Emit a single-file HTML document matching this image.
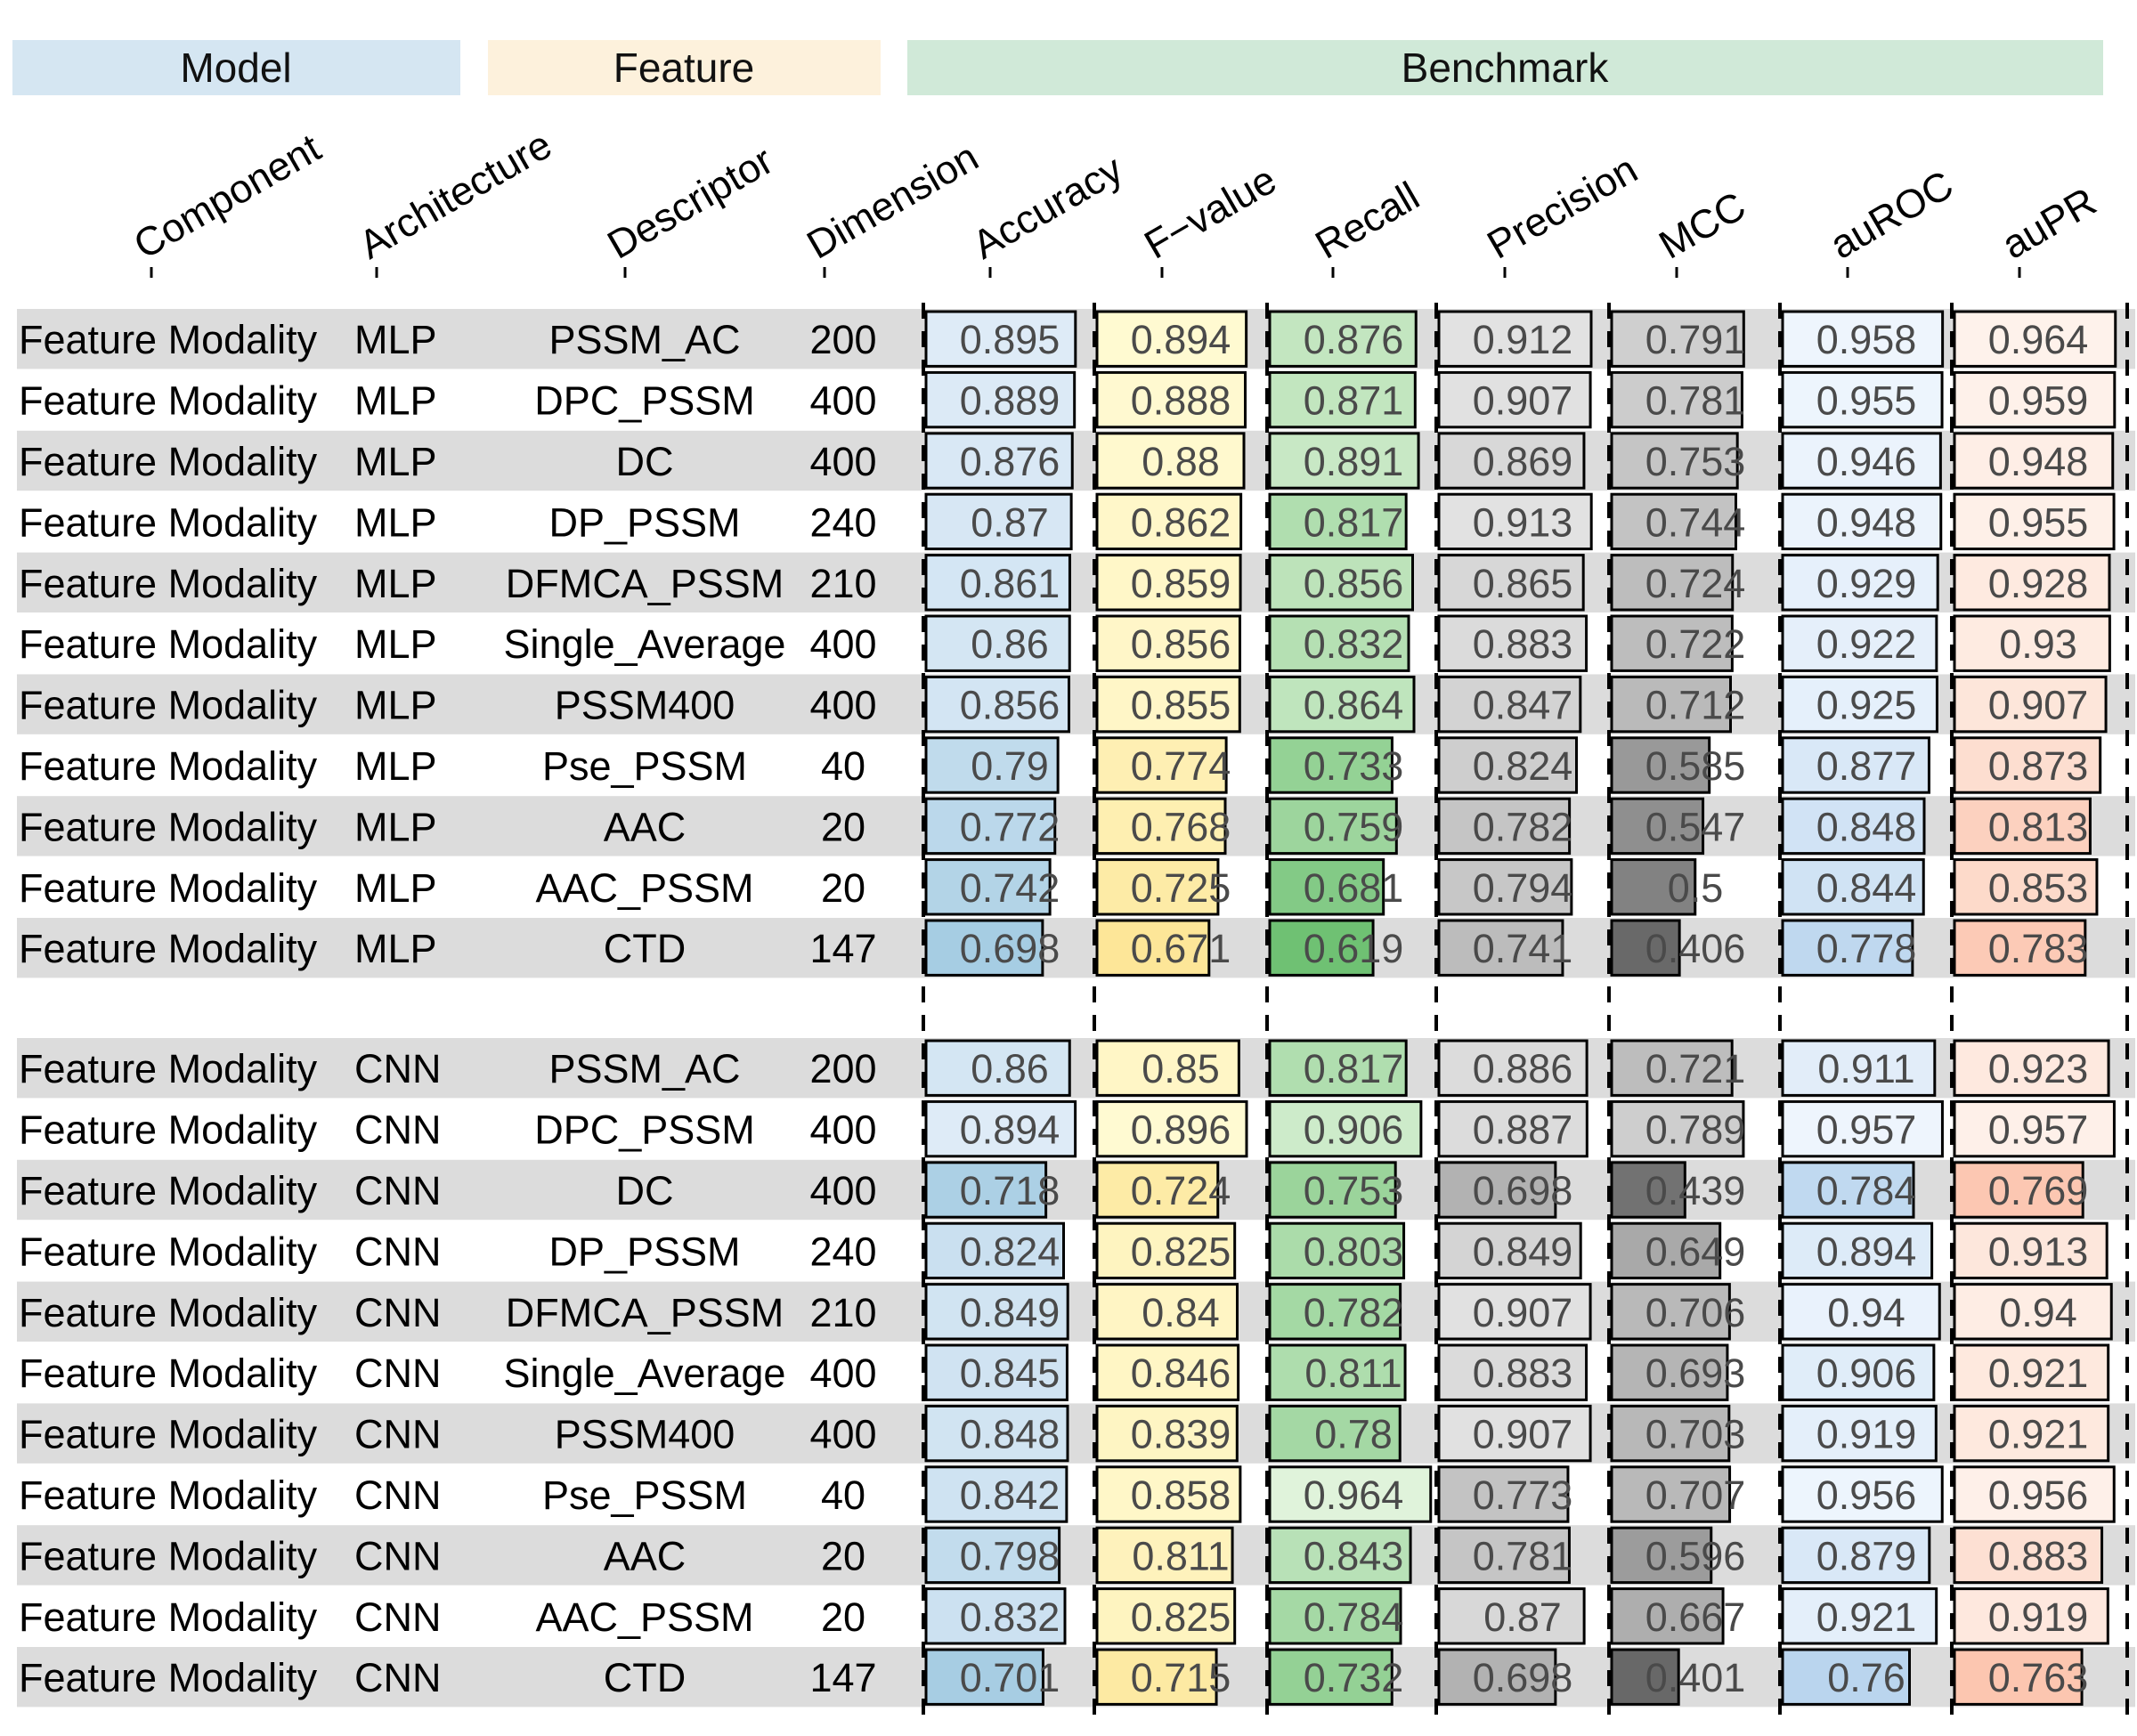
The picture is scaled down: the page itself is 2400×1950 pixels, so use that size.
<!DOCTYPE html>
<html><head><meta charset="utf-8"><style>
html,body{margin:0;padding:0;background:#fff;}
svg{display:block;font-family:"Liberation Sans",Arial,sans-serif;}
</style></head><body>
<svg id="chart" width="2400" height="1950" viewBox="0 0 2400 1950" xmlns="http://www.w3.org/2000/svg">
<g>
<rect x="14" y="45" width="503" height="62" fill="#d5e6f2"/>
<text x="265" y="92" font-size="46" text-anchor="middle" fill="#111">Model</text>
<rect x="548" y="45" width="441" height="62" fill="#fdf1dc"/>
<text x="768" y="92" font-size="46" text-anchor="middle" fill="#111">Feature</text>
<rect x="1019" y="45" width="1343" height="62" fill="#d0e9d8"/>
<text x="1690" y="92" font-size="46" text-anchor="middle" fill="#111">Benchmark</text>
</g>
<g id="bg"></g><g id="dash"></g><g id="bars"></g><g id="txt"></g><g id="heads"></g>
</svg>
<script>
const columns=["Component","Architecture","Descriptor","Dimension","Accuracy","F\u2212value","Recall","Precision","MCC","auROC","auPR"];
const architectures=["MLP","MLP","MLP","MLP","MLP","MLP","MLP","MLP","MLP","MLP","MLP","CNN","CNN","CNN","CNN","CNN","CNN","CNN","CNN","CNN","CNN","CNN"];
const descriptors=["PSSM_AC","DPC_PSSM","DC","DP_PSSM","DFMCA_PSSM","Single_Average","PSSM400","Pse_PSSM","AAC","AAC_PSSM","CTD","PSSM_AC","DPC_PSSM","DC","DP_PSSM","DFMCA_PSSM","Single_Average","PSSM400","Pse_PSSM","AAC","AAC_PSSM","CTD"];
const dimensions=[200,400,400,240,210,400,400,40,20,20,147,200,400,400,240,210,400,400,40,20,20,147];
const accuracy=[0.895,0.889,0.876,0.87,0.861,0.86,0.856,0.79,0.772,0.742,0.698,0.86,0.894,0.718,0.824,0.849,0.845,0.848,0.842,0.798,0.832,0.701];
const fvalue=[0.894,0.888,0.88,0.862,0.859,0.856,0.855,0.774,0.768,0.725,0.671,0.85,0.896,0.724,0.825,0.84,0.846,0.839,0.858,0.811,0.825,0.715];
const recall=[0.876,0.871,0.891,0.817,0.856,0.832,0.864,0.733,0.759,0.681,0.619,0.817,0.906,0.753,0.803,0.782,0.811,0.78,0.964,0.843,0.784,0.732];
const precision=[0.912,0.907,0.869,0.913,0.865,0.883,0.847,0.824,0.782,0.794,0.741,0.886,0.887,0.698,0.849,0.907,0.883,0.907,0.773,0.781,0.87,0.698];
const mcc=[0.791,0.781,0.753,0.744,0.724,0.722,0.712,0.585,0.547,0.5,0.406,0.721,0.789,0.439,0.649,0.706,0.693,0.703,0.707,0.596,0.667,0.401];
const auroc=[0.958,0.955,0.946,0.948,0.929,0.922,0.925,0.877,0.848,0.844,0.778,0.911,0.957,0.784,0.894,0.94,0.906,0.919,0.956,0.879,0.921,0.76];
const aupr=[0.964,0.959,0.948,0.955,0.928,0.93,0.907,0.873,0.813,0.853,0.783,0.923,0.957,0.769,0.913,0.94,0.921,0.921,0.956,0.883,0.919,0.763];
const metrics=[accuracy,fvalue,recall,precision,mcc,auroc,aupr];
const metricNames=["accuracy","f-value","recall","precision","mcc","auroc","aupr"];
const lightC=["#deebf7","#fffad2","#e0f3db","#e2e2e2","#cfcfcf","#eef5fd","#fef2eb"];
const darkC=["#a6cde3","#fde698","#6fc173","#b2b2b2","#686868","#bad5ee","#fcc6b0"];

const NS="http://www.w3.org/2000/svg";
function mk(tag,attrs,parent){const e=document.createElementNS(NS,tag);for(const k in attrs)e.setAttribute(k,attrs[k]);parent.appendChild(e);return e;}
const colStart=[1040,1232,1426,1616,1810,2002,2195];
const K=187.5, ROWH=68.4;
function rowY(i){return i<11?347+i*ROWH:1166+(i-11)*ROWH;}
function xScale(c,v){return v*K;}
function hex(c){return [1,3,5].map(i=>parseInt(c.substr(i,2),16));}
function mix(a,b,t){const A=hex(a),B=hex(b);return "rgb("+A.map((x,i)=>Math.round(x+(B[i]-x)*t)).join(",")+")";}
const bg=document.getElementById('bg'),dash=document.getElementById('dash'),bars=document.getElementById('bars'),txt=document.getElementById('txt'),heads=document.getElementById('heads');

const headX=[170,423,702,926,1112,1305,1497,1690,1883,2075,2268];
columns.forEach((c,j)=>{
  const t=mk('text',{x:headX[j]-8,y:292,'font-size':45,fill:'#000',transform:`rotate(-30 ${headX[j]-8} 292)`},heads);
  
  
  t.textContent=c;
  const tk=mk('rect',{x:headX[j]-1.5,y:300,width:3,height:12,fill:'#000'},heads);
  
  
});

descriptors.forEach((d,i)=>{
  if((i<11?i:i-11)%2===0){
    const r=mk('rect',{x:19,y:rowY(i),width:2379,height:ROWH-1,fill:'#dcdcdc'},bg);
    
    
  }
});
colStart.concat([2392]).forEach((x,j)=>{
  const l=mk('line',{x1:x-3,x2:x-3,y1:340,y2:1935,stroke:'#000','stroke-width':4,'stroke-dasharray':'18 14'},dash);
  
  
});
metrics.forEach((arr,c)=>{
  const mn=Math.min(...arr),mx=Math.max(...arr);
  arr.forEach((v,i)=>{
    const y=rowY(i);
    const t=(mx-v)/(mx-mn);
    const b=mk('rect',{x:colStart[c],y:y+3,width:xScale(c,v),height:ROWH-7,fill:mix(lightC[c],darkC[c],t),stroke:'#000','stroke-width':3},bars);
    
    
    const tx=mk('text',{x:colStart[c]+94,y:y+ROWH/2+16,'font-size':45,'text-anchor':'middle',fill:'#4a4a4a'},txt);
    
    
    tx.textContent=String(v);
  });
});
descriptors.forEach((d,i)=>{
  const yb=rowY(i)+ROWH/2+16;
  const a=mk('text',{x:21,y:yb,'font-size':45,fill:'#000'},txt);
  
  
  a.textContent='Feature Modality';
  const b=mk('text',{x:398,y:yb,'font-size':45,fill:'#000'},txt);
  
  
  b.textContent=architectures[i];
  const c=mk('text',{x:724,y:yb,'font-size':45,fill:'#000','text-anchor':'middle'},txt);
  
  
  c.textContent=d;
  const e=mk('text',{x:947,y:yb,'font-size':45,fill:'#000','text-anchor':'middle'},txt);
  
  
  e.textContent=dimensions[i];
});
</script>
</body></html>
